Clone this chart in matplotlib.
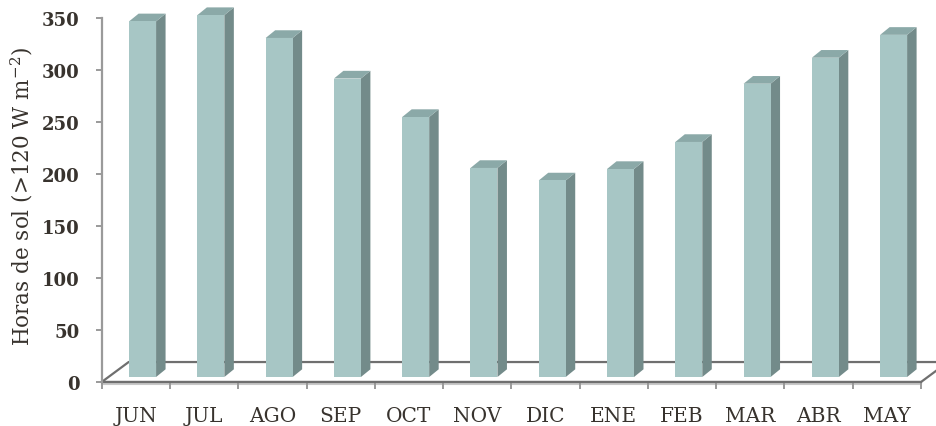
import numpy as np
import matplotlib.pyplot as plt
from matplotlib.patches import Polygon

plt.rcParams['font.family'] = ['DejaVu Serif']
plt.rcParams['mathtext.fontset'] = 'dejavuserif'

# horas de sol mensuales (>120 W m-2)
meses = ["JUN", "JUL", "AGO", "SEP", "OCT", "NOV", "DIC", "ENE", "FEB", "MAR", "ABR", "MAY"]
horas = [342, 348, 326, 287, 250, 201, 189, 200, 226, 282, 307, 329]
yticks = [0, 50, 100, 150, 200, 250, 300, 350]

c_front = "#a7c6c5"
c_side = "#738b8a"
c_top = "#8ba9a8"
c_text = "#38332e"

fig = plt.figure(figsize=(9.36, 4.27), dpi=100)
ax = fig.add_axes([101.7 / 936, 44 / 427, 819.3 / 936, 364 / 427])
ax.set_xlim(-0.5, 11.5)
ax.set_ylim(0, 350)

# oblique offsets for the fake 3d look (data units)
floor_dx, floor_dy = 0.395, 19.2
off_dx, off_dy = 0.099, 4.8      # front face of bars sits a bit behind the floor edge
dep_dx, dep_dy = 0.139, 7.4      # depth of each bar
w = 0.395

n = len(meses)
floor = Polygon([(-0.5, 0), (n - 0.5, 0), (n - 0.5 + floor_dx, floor_dy),
                 (-0.5 + floor_dx, floor_dy)], closed=True, facecolor="white",
                edgecolor="#6f6f6f", lw=1.6, clip_on=False, zorder=1)
ax.add_patch(floor)
ax.plot([-0.5, n - 0.5], [-1.8, -1.8], color="#c8c8c8", lw=1.5, clip_on=False, zorder=1)

for i, v in enumerate(horas):
    x0 = i - w / 2 + off_dx
    x1 = x0 + w
    y0 = off_dy
    y1 = off_dy + v
    side = Polygon([(x1, y0), (x1 + dep_dx, y0 + dep_dy), (x1 + dep_dx, y1 + dep_dy), (x1, y1)],
                   closed=True, facecolor=c_side, edgecolor="none", zorder=3, clip_on=False)
    top = Polygon([(x0, y1), (x1, y1), (x1 + dep_dx, y1 + dep_dy), (x0 + dep_dx, y1 + dep_dy)],
                  closed=True, facecolor=c_top, edgecolor="none", zorder=3, clip_on=False)
    ax.add_patch(side)
    ax.add_patch(top)
    ax.bar(i + off_dx, v, width=w, bottom=y0, color=c_front, edgecolor="none",
           zorder=4, clip_on=False)

for s in ["top", "right"]:
    ax.spines[s].set_visible(False)
ax.spines["left"].set_color("#9a9a9a")
ax.spines["left"].set_linewidth(1.6)
ax.spines["bottom"].set_color("#6f6f6f")
ax.spines["bottom"].set_linewidth(1.6)
ax.spines["bottom"].set_zorder(2)

ax.set_yticks(yticks)
ax.set_yticklabels([str(t) for t in yticks], fontsize=13, fontweight="bold", color=c_text)
ax.tick_params(axis="y", direction="out", length=4, width=1.4, color="#9a9a9a", pad=12)

ax.set_xticks(range(n))
ax.set_xticklabels(meses, fontsize=14.5, color=c_text)
ax.set_xticks(np.arange(-0.5, n, 1), minor=True)
ax.tick_params(axis="x", which="major", length=0, pad=17)
ax.tick_params(axis="x", which="minor", direction="out", length=5, width=1.4, color="#9a9a9a")

fig.text(22 / 936, 1 - 196 / 427, r"Horas de sol (>120 W m$^{-2}$)", rotation=90,
         ha="center", va="center", fontsize=15.5, color=c_text)

fig.savefig("out.png", dpi=100)
